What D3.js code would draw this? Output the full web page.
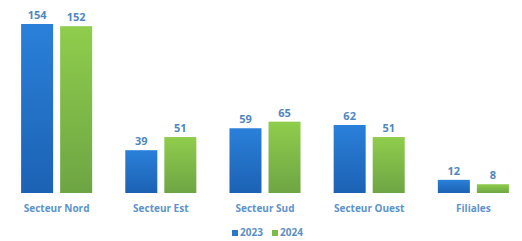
<!DOCTYPE html>
<html>
<head>
<meta charset="utf-8">
<script src="https://cdn.jsdelivr.net/npm/d3@7"></script>
<style>
  body { margin: 0; background: #fff; }
  text { font-family: "Open Sans", sans-serif; font-weight: bold; }
</style>
</head>
<body>
<div id="chart"></div>
<script>
var categories = ["Secteur Nord", "Secteur Est", "Secteur Sud", "Secteur Ouest", "Filiales"];
var years = ["2023", "2024"];
var values2023 = [154, 39, 59, 62, 12];
var values2024 = [152, 51, 65, 51, 8];

var w = 522, h = 241;
var margin = {top: 24, left: 6, right: -2, bottom: 48};

var svg = d3.select("#chart").append("svg")
    .attr("width", w)
    .attr("height", h);

var defs = svg.append("defs");
var gBlue = defs.append("linearGradient").attr("id", "gBlue").attr("x1", 0).attr("x2", 0).attr("y1", 0).attr("y2", 1);
gBlue.append("stop").attr("offset", "0%").attr("stop-color", "#2a80d9");
gBlue.append("stop").attr("offset", "100%").attr("stop-color", "#1c62b4");
var gGreen = defs.append("linearGradient").attr("id", "gGreen").attr("x1", 0).attr("x2", 0).attr("y1", 0).attr("y2", 1);
gGreen.append("stop").attr("offset", "0%").attr("stop-color", "#8fcd4c");
gGreen.append("stop").attr("offset", "100%").attr("stop-color", "#6ea544");

var fills = ["url(#gBlue)", "url(#gGreen)"];
var legendColors = ["#2a78cc", "#7fba48"];

var x0 = d3.scaleBand()
    .domain(categories)
    .range([margin.left, w - margin.right])
    .paddingInner(0.318)
    .paddingOuter(0.145);

var x1 = d3.scaleBand()
    .domain(years)
    .range([0, x0.bandwidth()])
    .paddingInner(0.18);

var yScale = d3.scaleLinear()
    .domain([0, 154])
    .range([h - margin.bottom, margin.top]);

var rows = categories.map(function(c, i) {
    return {cat: c, vals: [values2023[i], values2024[i]]};
});

var groups = svg.selectAll(".grp")
    .data(rows)
    .enter().append("g")
    .attr("class", "grp")
    .attr("transform", function(d) { return "translate(" + x0(d.cat) + ",0)"; });

groups.selectAll("rect")
    .data(function(d) { return d.vals.map(function(v, j) { return {year: years[j], v: v, j: j}; }); })
    .enter().append("rect")
    .attr("x", function(d) { return x1(d.year); })
    .attr("y", function(d) { return yScale(d.v); })
    .attr("width", x1.bandwidth())
    .attr("height", function(d) { return yScale(0) - yScale(d.v); })
    .attr("fill", function(d) { return fills[d.j]; });

groups.selectAll(".val")
    .data(function(d) { return d.vals.map(function(v, j) { return {year: years[j], v: v}; }); })
    .enter().append("text")
    .attr("class", "val")
    .attr("x", function(d) { return x1(d.year) + x1.bandwidth() / 2; })
    .attr("y", function(d) { return yScale(d.v) - 5; })
    .attr("text-anchor", "middle")
    .attr("font-size", "11px")
    .attr("fill", "#4f86c2")
    .text(function(d) { return d.v; });

var xAxis = d3.axisBottom(x0).tickSize(0).tickPadding(12);
var ax = svg.append("g")
    .attr("transform", "translate(0," + yScale(0) + ")")
    .call(xAxis);
ax.select(".domain").remove();
ax.selectAll("text")
    .attr("font-size", "10px")
    .attr("fill", "#5d93cc");

// legend
var legend = svg.append("g").attr("transform", "translate(232," + (h - 5) + ")");
var li = legend.selectAll("g")
    .data(years)
    .enter().append("g")
    .attr("transform", function(d, i) { return "translate(" + (i * 40) + ",0)"; });
li.append("rect")
    .attr("x", 0).attr("y", -6)
    .attr("width", 6).attr("height", 6)
    .attr("fill", function(d, i) { return legendColors[i]; });
li.append("text")
    .attr("x", 8).attr("y", 0)
    .attr("font-size", "10px")
    .attr("fill", "#5d8fc6")
    .text(function(d) { return d; });
</script>
</body>
</html>
